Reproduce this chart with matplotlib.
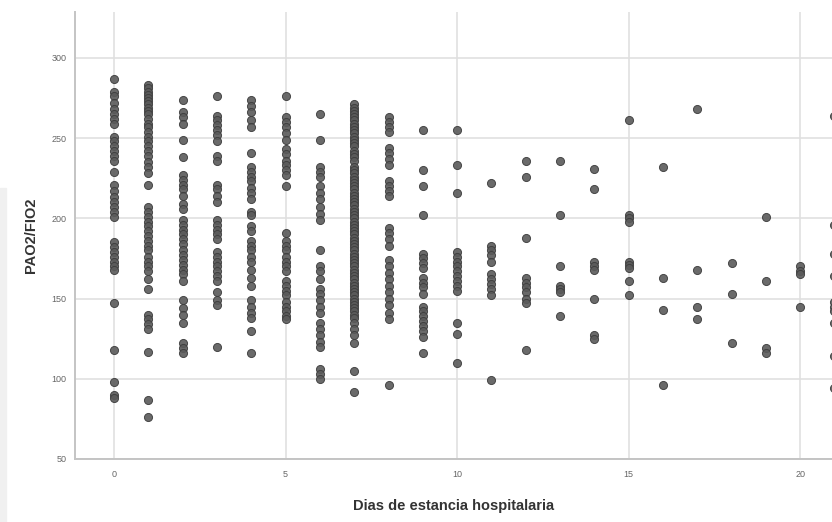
import matplotlib.pyplot as plt
from matplotlib.patches import Rectangle

# PAO2/FIO2 values read per day of hospital stay
day0 = [287, 279, 276, 272, 268, 265, 262, 259, 251, 248, 245, 242, 239, 236, 229, 221, 217,
        213, 210, 207, 204, 201, 185, 182, 179, 176, 173, 170, 168, 147, 118, 98, 90, 88]
day1 = [283, 281, 279, 277, 275, 273, 271, 269, 267, 265, 262, 259, 257, 254, 251, 248, 245,
        242, 239, 235, 232, 228, 221, 207, 204, 201, 198, 195, 192, 189, 186, 183, 180, 176,
        173, 170, 167, 162, 156, 140, 137, 134, 131, 117, 87, 76]
day2 = [274, 266, 263, 259, 249, 238, 227, 224, 221, 218, 214, 209, 206, 199, 196, 193, 190,
        187, 184, 180, 177, 174, 171, 168, 165, 161, 149, 144, 140, 135, 122, 119, 116]
day3 = [276, 264, 261, 258, 255, 252, 248, 239, 236, 221, 218, 214, 210, 199, 196, 193, 190,
        187, 179, 176, 173, 170, 167, 164, 161, 154, 149, 146, 120]
day4 = [274, 270, 266, 261, 257, 241, 232, 229, 226, 223, 219, 216, 212, 204, 202, 195, 192,
        186, 183, 180, 176, 173, 168, 163, 158, 149, 145, 141, 138, 130, 116]
day5 = [276, 263, 260, 257, 253, 249, 243, 240, 236, 233, 230, 227, 220, 191, 186, 183, 180,
        176, 173, 170, 167, 161, 158, 155, 152, 148, 145, 142, 139, 137]
day6 = [265, 249, 232, 229, 226, 220, 216, 212, 207, 203, 199, 180, 170, 167, 162, 156, 153,
        149, 145, 141, 135, 131, 127, 123, 120, 106, 103, 100]
day7 = [271, 269, 267, 265, 263, 261, 259, 257, 255, 253, 251, 249, 247, 245, 242, 240, 238,
        236, 232, 230, 228, 226, 224, 222, 220, 218, 216, 214, 212, 210, 208, 206, 204, 202,
        200, 198, 196, 194, 192, 190, 188, 186, 184, 182, 180, 178, 176, 174, 172, 170, 168,
        166, 164, 162, 160, 158, 156, 154, 152, 150, 148, 146, 144, 142, 140, 138, 135, 131,
        127, 122, 105, 92]
day8 = [263, 260, 257, 254, 244, 241, 237, 233, 223, 220, 217, 214, 194, 191, 187, 183, 174,
        170, 166, 162, 158, 154, 150, 146, 141, 137, 96]
day9 = [255, 230, 220, 202, 178, 175, 172, 169, 163, 160, 157, 153, 145, 142, 139, 136, 133,
        130, 126, 116]
day10 = [255, 233, 216, 179, 176, 173, 170, 167, 164, 161, 158, 155, 135, 128, 110]
day11 = [222, 183, 180, 177, 173, 165, 162, 159, 156, 152, 99]
day12 = [236, 226, 188, 163, 160, 157, 154, 150, 147, 118]
day13 = [236, 202, 170, 158, 156, 154, 139]
day14 = [231, 218, 173, 170, 168, 150, 127, 125]
day15 = [261, 202, 200, 198, 173, 171, 169, 161, 152]
day16 = [232, 163, 143, 96]
day17 = [268, 168, 145, 137]
day18 = [172, 153, 122]
day19 = [201, 161, 119, 116]
day20 = [170, 167, 165, 145]
day21 = [264, 196, 178, 164, 148, 145, 142, 135, 114, 94]

columns = [day0, day1, day2, day3, day4, day5, day6, day7, day8, day9, day10,
           day11, day12, day13, day14, day15, day16, day17, day18, day19, day20, day21]

x = []
y = []
for d, vals in enumerate(columns):
    x.extend([d] * len(vals))
    y.extend(vals)

plt.rcParams['font.family'] = ['Liberation Sans', 'DejaVu Sans']

fig = plt.figure(figsize=(8.32, 5.22), dpi=100)
fig.patches.append(Rectangle((0, 0), 6 / 832, (522 - 188) / 522, transform=fig.transFigure,
                             color="#f0f0f0", zorder=0))

ax = fig.add_axes([75 / 832, (522 - 459) / 522, 1 - 75 / 832, (459 - 12) / 522])
ax.scatter(x, y, s=34, facecolor="#5a5a5a", edgecolor="#3c3c3c", linewidth=0.7,
           alpha=0.9, zorder=3, clip_on=False)

ax.set_xlim(-1.14, 20.93)
ax.set_ylim(50, 328.6)
ax.set_xticks([0, 5, 10, 15, 20])
ax.set_yticks([50, 100, 150, 200, 250, 300])
ax.grid(True, color="#e0e0e0", linewidth=1.2)
ax.set_axisbelow(True)
for s in ["top", "right"]:
    ax.spines[s].set_visible(False)
for s in ["left", "bottom"]:
    ax.spines[s].set_color("#c4c4c4")
    ax.spines[s].set_linewidth(1.4)
ax.tick_params(length=0, labelsize=6.5, labelcolor="#666666")
ax.tick_params(axis="x", pad=8)
ax.tick_params(axis="y", pad=6)

ax.set_xlabel("Dias de estancia hospitalaria", fontsize=10.5, fontweight="bold",
              color="#333333", labelpad=14)
ax.set_ylabel("PAO2/FIO2", fontsize=10.5, fontweight="bold", color="#333333", labelpad=10)

fig.savefig("out.png", dpi=100)
